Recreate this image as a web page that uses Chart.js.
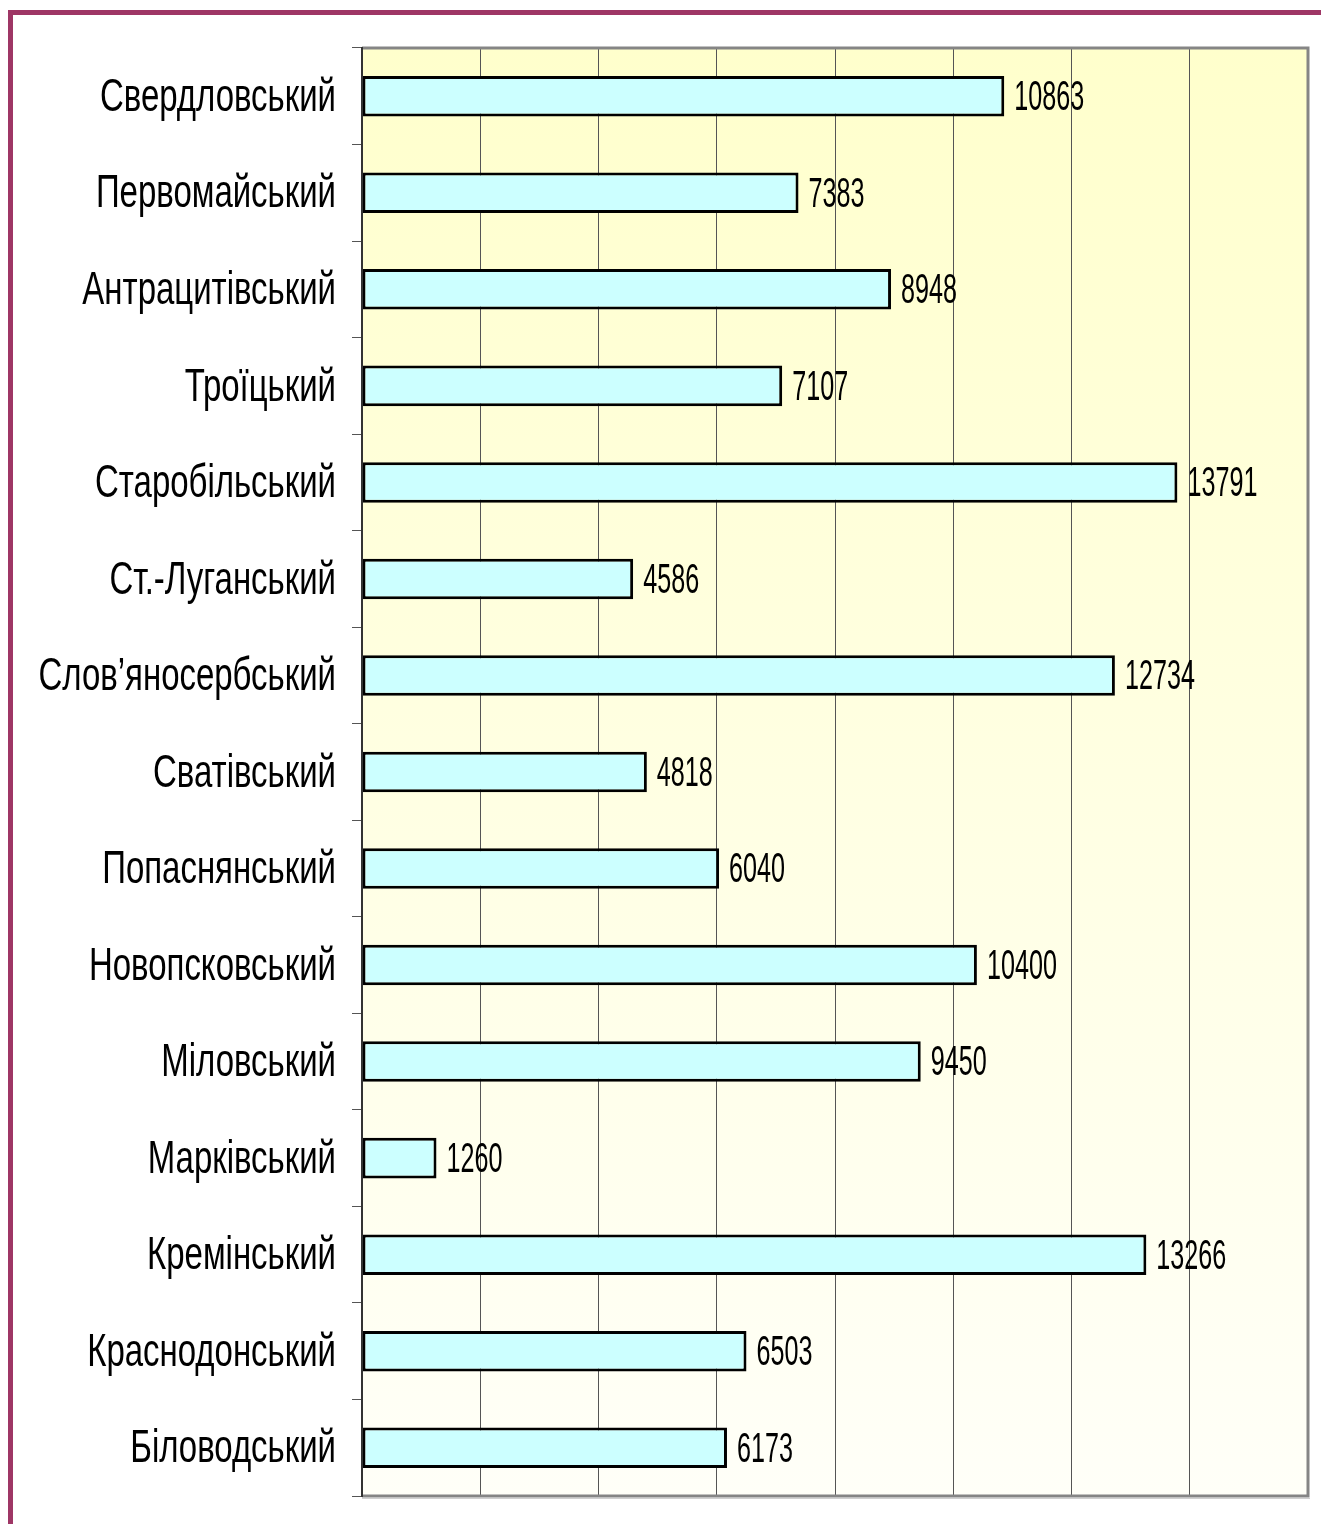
<!DOCTYPE html>
<html>
<head>
<meta charset="utf-8">
<script src="https://cdn.jsdelivr.net/npm/chart.js@4"></script>
<style>
  body { margin: 0; background: #fff; }
  canvas { display: block; }
</style>
</head>
<body>
<canvas id="chart" width="1321" height="1524"></canvas>
<script>
// районы (сверху вниз)
var rayony = ['Свердловський', 'Первомайський', 'Антрацитівський', 'Троїцький',
  'Старобільський', 'Ст.-Луганський', 'Слов’яносербський', 'Сватівський',
  'Попаснянський', 'Новопсковський', 'Міловський', 'Марківський',
  'Кремінський', 'Краснодонський', 'Біловодський'];
var znachennya = [10863, 7383, 8948, 7107, 13791, 4586, 12734, 4818,
  6040, 10400, 9450, 1260, 13266, 6503, 6173];
var xMin = 0;
var xMax = 16000;
var xStep = 2000;

var FONT = '"Liberation Sans", Arial, sans-serif';

// рамка, фон и подписи
var oformlennya = {
  id: 'oformlennya',
  beforeDraw: function(chart) {
    var ctx = chart.ctx;
    var a = chart.chartArea;
    ctx.save();
    // бордовая рамка сверху и слева
    ctx.fillStyle = '#9e3665';
    ctx.fillRect(8, 10, chart.width - 8, 5);
    ctx.fillRect(8, 10, 5, chart.height - 10);
    // градиентный фон области построения
    var g = ctx.createLinearGradient(0, a.top, 0, a.bottom);
    g.addColorStop(0, '#ffffcc');
    g.addColorStop(1, '#fffff8');
    ctx.fillStyle = g;
    ctx.fillRect(a.left, a.top, a.right - a.left, a.bottom - a.top);
    ctx.restore();
  },
  afterDatasetsDraw: function(chart) {
    var ctx = chart.ctx;
    var a = chart.chartArea;
    var xs = chart.scales.x;
    var ys = chart.scales.y;
    ctx.save();
    // серая рамка
    ctx.strokeStyle = '#858585';
    ctx.lineWidth = 3;
    ctx.beginPath();
    ctx.moveTo(a.left, a.top);
    ctx.lineTo(a.right, a.top);
    ctx.lineTo(a.right, a.bottom);
    ctx.lineTo(a.left, a.bottom);
    ctx.stroke();
    ctx.strokeStyle = '#d0d0d0';
    ctx.lineWidth = 1;
    ctx.beginPath();
    ctx.moveTo(a.left, a.bottom + 2.5);
    ctx.lineTo(a.right + 2, a.bottom + 2.5);
    ctx.stroke();
    ctx.strokeStyle = '#333';
    ctx.lineWidth = 2;
    ctx.beginPath();
    ctx.moveTo(a.left, a.top - 1);
    ctx.lineTo(a.left, a.bottom + 1);
    ctx.stroke();

    ctx.fillStyle = '#000';
    ctx.textBaseline = 'middle';
    // названия районов
    ctx.font = '46px ' + FONT;
    var sxL = 236 / ctx.measureText('Свердловський').width;
    rayony.forEach(function(r, i) {
      var y = ys.getPixelForValue(i);
      ctx.save();
      ctx.translate(336, y + 2);
      ctx.scale(sxL, 1);
      ctx.textAlign = 'right';
      ctx.fillText(r, 0, 0);
      ctx.restore();
    });
    // значения
    ctx.font = '43px ' + FONT;
    var sxV = 14 / ctx.measureText('0').width;
    znachennya.forEach(function(v, i) {
      var y = ys.getPixelForValue(i);
      var x = xs.getPixelForValue(v) + 10;
      ctx.save();
      ctx.translate(x, y + 2);
      ctx.scale(sxV, 1);
      ctx.textAlign = 'left';
      ctx.fillText(String(v), 0, 0);
      ctx.restore();
    });
    ctx.restore();
  }
};

var ctx = document.getElementById('chart').getContext('2d');
new Chart(ctx, {
  type: 'bar',
  data: {
    labels: rayony,
    datasets: [{
      data: znachennya,
      backgroundColor: '#ccffff',
      borderColor: '#000',
      borderWidth: 3,
      borderSkipped: false,
      barPercentage: 0.42,
      categoryPercentage: 1
    }]
  },
  options: {
    indexAxis: 'y',
    responsive: false,
    animation: false,
    layout: { padding: { left: 352, top: 48, right: 13, bottom: 28 } },
    plugins: {
      legend: { display: false },
      tooltip: { enabled: false }
    },
    scales: {
      x: {
        min: xMin,
        max: xMax,
        ticks: { display: false, stepSize: xStep },
        grid: { color: '#555', lineWidth: 1, drawTicks: false },
        border: { display: false }
      },
      y: {
        offset: true,
        ticks: { display: false },
        grid: { offset: true, drawOnChartArea: false, drawTicks: true, tickLength: 10, color: '#555', lineWidth: 1 },
        border: { display: false }
      }
    }
  },
  plugins: [oformlennya]
});
</script>
</body>
</html>
